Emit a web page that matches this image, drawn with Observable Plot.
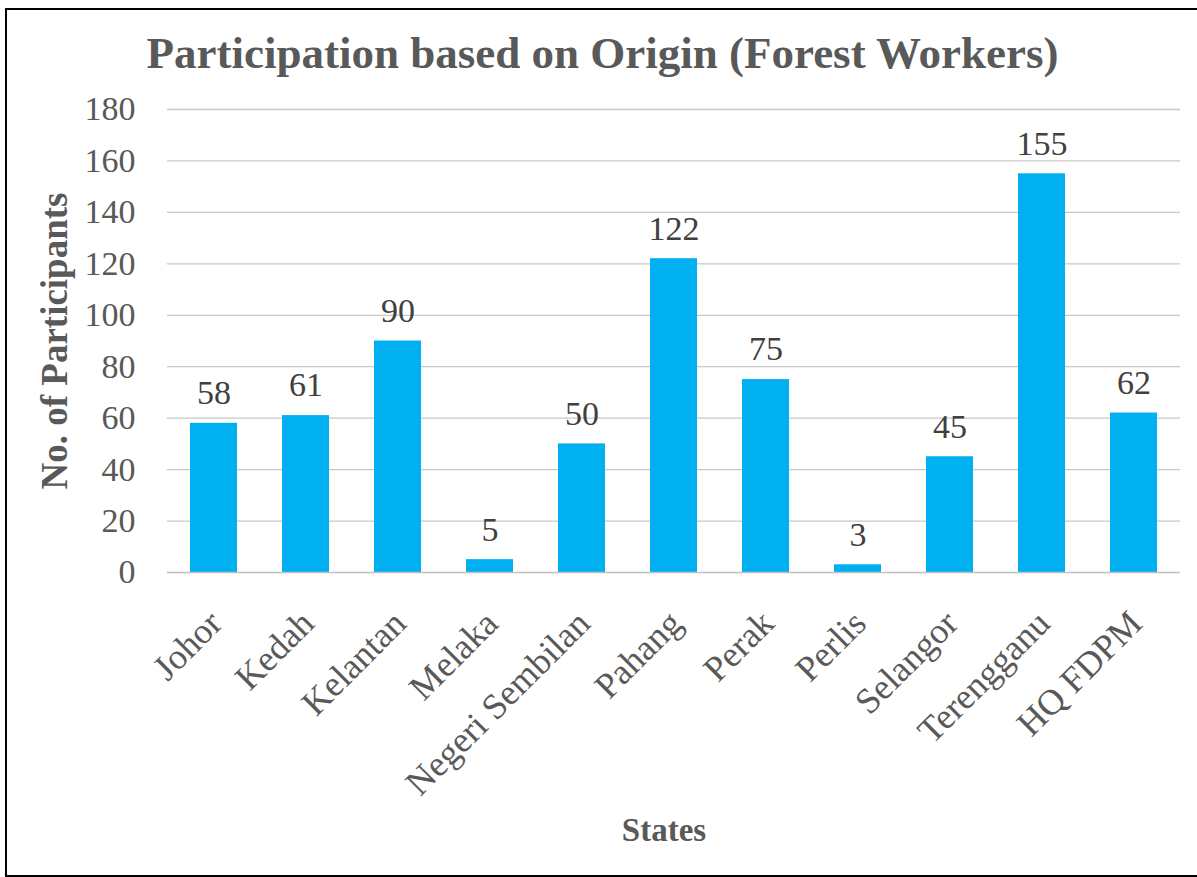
<!DOCTYPE html>
<html>
<head>
<meta charset="utf-8">
<script src="https://cdn.jsdelivr.net/npm/d3@7"></script>
<script src="https://cdn.jsdelivr.net/npm/@observablehq/plot@0.6"></script>
<style>
  html, body { margin: 0; padding: 0; background: #fff; }
  body { width: 1197px; height: 877px; position: relative; overflow: hidden; font-family: "Liberation Serif", "DejaVu Serif", serif; }
  #frame { position: absolute; left: 5px; top: 8px; width: 1200px; height: 865px; border: 2px solid #000; box-sizing: content-box; }
  #chart { position: absolute; left: 0; top: 0; }
  .t { position: absolute; color: #595959; font-weight: bold; white-space: nowrap; line-height: 1; }
  #title { left: 0; width: 1197px; top: 31px; padding-left: 8px; box-sizing: border-box; text-align: center; font-size: 45px; }
  #ylab { left: 54px; top: 341px; font-size: 37px; transform: translate(-50%, -50%) rotate(-90deg); }
  #xlab { left: 0; width: 1197px; top: 814px; padding-left: 131px; box-sizing: border-box; text-align: center; font-size: 33px; }
</style>
</head>
<body>
<div id="frame"></div>
<div id="chart"></div>
<div class="t" id="title">Participation based on Origin (Forest Workers)</div>
<div class="t" id="ylab">No. of Participants</div>
<div class="t" id="xlab">States</div>
<script>
const states = ["Johor", "Kedah", "Kelantan", "Melaka", "Negeri Sembilan", "Pahang", "Perak", "Perlis", "Selangor", "Terengganu", "HQ FDPM"];
const participants = [58, 61, 90, 5, 50, 122, 75, 3, 45, 155, 62];
const yTicks = [0, 20, 40, 60, 80, 100, 120, 140, 160, 180];

const data = states.map((s, i) => ({state: s, value: participants[i]}));

const chart = Plot.plot({
  width: 1197,
  height: 877,
  marginTop: 109,
  marginBottom: 305,
  marginLeft: 167,
  marginRight: 17,
  style: {fontFamily: '"Liberation Serif", "DejaVu Serif", serif', background: "transparent", color: "#595959"},
  x: {domain: states, paddingInner: 0.49, paddingOuter: 0.245, label: null, axis: null},
  y: {domain: [0, 180], label: null},
  marks: [
    Plot.ruleY(yTicks.filter(d => d > 0), {stroke: "#c8c8c8", strokeWidth: 1.3}),
    Plot.barY(data, {x: "state", y: "value", fill: "#00B0F0"}),
    Plot.ruleY([0], {stroke: "#c0c0c0", strokeWidth: 1.5}),
    Plot.text(data, {x: "state", y: "value", text: d => String(d.value), dy: -30, fontSize: 34, fill: "#404040"}),
    Plot.axisY({ticks: yTicks, tickSize: 0, tickPadding: 32, fontSize: 34, fill: "#595959", label: null}),
    Plot.text(states, {x: d => d, frameAnchor: "bottom", text: d => d, rotate: -45, textAnchor: "end", lineAnchor: "top", dx: -8, dy: 35, fontSize: 36, fill: "#595959"})
  ]
});
document.getElementById("chart").appendChild(chart);
</script>
</body>
</html>
